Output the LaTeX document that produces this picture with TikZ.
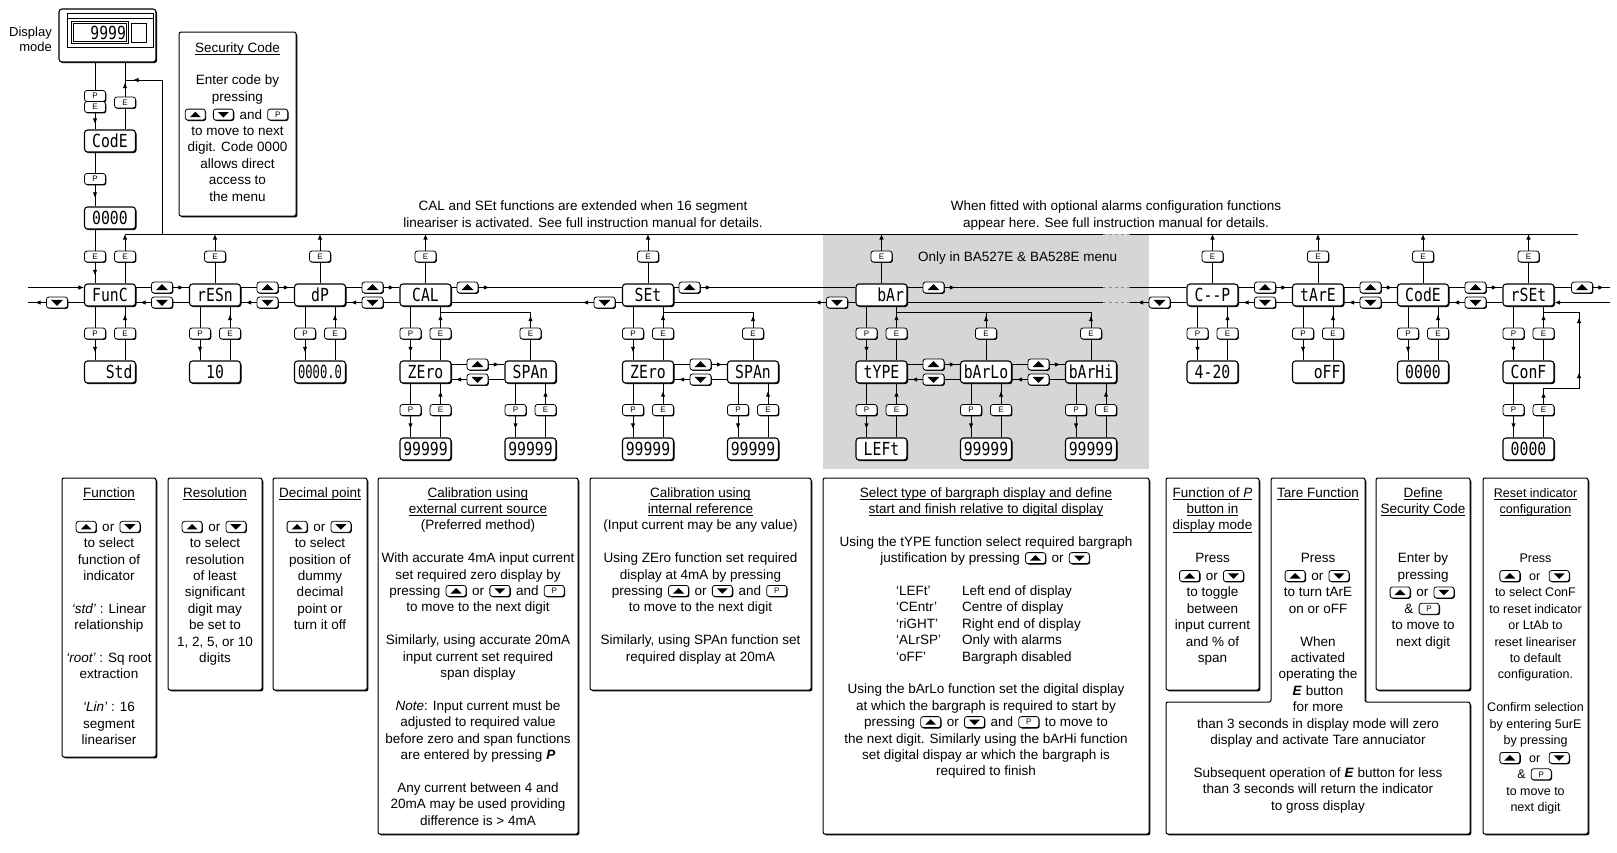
\documentclass[tikz,border=0pt]{standalone}
\usepackage{fontspec}
\setmainfont{Liberation Sans}
\newfontfamily\segfont[FakeStretch=0.82]{DejaVu Sans Mono}
\usepackage{graphicx}
\usetikzlibrary{arrows.meta,decorations.markings,shadows,calc}
\newsavebox\ulbox
\newcommand\uline[1]{\leavevmode\sbox\ulbox{#1}\rlap{\rule[-2.4pt]{\wd\ulbox}{0.7pt}}\usebox\ulbox}
\newcommand\txtfont{\fontsize{13.5}{16.4}\selectfont}
\newcommand\smtxt{\fontsize{12.5}{16.4}\selectfont}
\newcommand\btnfont{\fontsize{8}{8}\selectfont}
\newcommand\segf{\segfont\fontsize{18}{18}\selectfont}
\newcommand\skipln{\\[16.4pt]}
\newcommand\icbase[1]{\kern1.5pt\tikz[baseline=-4.5pt,x=1pt,y=1pt]{%
  \fill[black,rounded corners=2.5pt] (-9.1,-6.4) rectangle (10.9,4.6);%
  \filldraw[fill=white,draw=black,line width=0.8pt,rounded corners=2.5pt] (-10,-5.5) rectangle (10,5.5);%
  #1}\kern1.5pt}
\newcommand\icup{\icbase{\fill[black] (-5.5,-2.6) -- (5.5,-2.6) -- (0,2.9) -- cycle;}}
\newcommand\icdn{\icbase{\fill[black] (-5.5,2.6) -- (5.5,2.6) -- (0,-2.9) -- cycle;}}
\newcommand\icp{\icbase{\pgftext[at=\pgfpoint{0pt}{0pt}]{\btnfont P}}}
\tikzset{
  ln/.style={line width=0.9pt},
  tip/.style={ln,-{Latex[length=5.5pt,width=4.5pt]}},
  arr/.style={ln,postaction={decorate},decoration={markings,mark=at position #1 with {\arrow{Latex[length=5.5pt,width=4.5pt]}}}},
  arr/.default=11pt,
  gapdash/.style={line width=0.9pt,dash pattern=on 3pt off 3pt,black!45},
  shad/.style={drop shadow={shadow xshift=#1,shadow yshift=-#1,opacity=1,fill=black}},
  seg/.style={draw,line width=1.1pt,rounded corners=3pt,fill=white,minimum width=51pt,minimum height=22pt,text width=45pt,inner xsep=3pt,inner ysep=0pt,align=center,font=\segf,text height=13.1pt,text depth=0pt,shad=1.1pt},
  segr/.style={seg,align=right},
  btn/.style={draw,line width=0.8pt,rounded corners=2.5pt,fill=white,minimum width=21pt,minimum height=11pt,inner sep=0pt,font=\btnfont,shad=0.9pt},
  upb/.style={btn,path picture={\fill[black,sharp corners] ([xshift=-6pt,yshift=-2.7pt]path picture bounding box.center) -- ++(12pt,0pt) -- ++(-6pt,6pt) -- cycle;}},
  dnb/.style={btn,path picture={\fill[black,sharp corners] ([xshift=-6pt,yshift=2.7pt]path picture bounding box.center) -- ++(12pt,0pt) -- ++(-6pt,-6pt) -- cycle;}},
  boxn/.style={draw,line width=1pt,rounded corners=2pt,fill=white,inner sep=0pt,shad=1.3pt},
  tx/.style={inner sep=0pt,anchor=base},
}
\newcommand\vdown[3]{\draw[ln] (#1.south -| #2) -- (#2.north); \draw[arr=13pt] (#2.south) -- (#3.north -| #2);}
\newcommand\vup[3]{\draw[ln] (#1.north -| #2) -- (#2.south); \draw[arr=13pt] (#2.north) -- (#3.south -| #2);}
\newcommand\hfwd[3]{\draw[ln] (#1.east |- #2) -- (#2.west); \draw[arr] (#2.east) -- (#3.west |- #2);}
\newcommand\hbwd[3]{\draw[ln] (#1.west |- #2) -- (#2.east); \draw[arr] (#2.west) -- (#3.east |- #2);}
\begin{document}
\begin{tikzpicture}[x=1pt,y=-1pt]
\useasboundingbox (0,0) rectangle (1617,852);
% grey band
\fill[black!16] (823,234) rectangle (1149,469);

% ---------- display housing ----------
\node[draw,line width=1.1pt,rounded corners=3pt,fill=white,minimum width=97pt,minimum height=53pt,inner sep=0pt,shad=1.2pt] (disp) at (107.5,35.5) {};
\draw[line width=0.8pt] (67,13) rectangle (153,47);
\draw[line width=0.8pt] (67,18) -- (153,18);
\node[draw,line width=0.7pt,double,double distance=1.1pt,minimum width=55pt,minimum height=20pt,inner sep=0pt,text width=52pt,align=right,font=\segf,text height=13.1pt,text depth=0pt] (win) at (100,32.5) {9999};
\node[draw,line width=0.8pt,minimum width=15pt,minimum height=19pt,inner sep=0pt] (sq) at (139,32.5) {};
\node[tx,anchor=base east] (dmode) at (52,36) {\parbox[t]{60pt}{\raggedleft\fontsize{13}{15}\selectfont Display\\ mode}};

\node[seg] (codetop) at (110,141) {CodE};
\node[seg] (zero4) at (110,218) {0000};
\node[btn] (pPE) at (95,96) {P};
\node[btn] (ePE) at (95,107) {E};
\node[btn] (eR) at (125,102.5) {E};
\node[btn] (pC) at (95,179) {P};

% security box
\node[boxn,minimum width=117pt,minimum height=184pt] (secbox) at (237.5,124) {};
\node[tx] (sectxt) at (237.5,52) {\parbox[t]{112pt}{\centering\txtfont \uline{Security Code}\skipln Enter code by\\ pressing\\ \icup\ \icdn\ and \icp\\ to move to next\\ digit. Code 0000\\ allows direct\\ access to\\ the menu}};

% notes
\node[tx] (note1) at (583,210) {\parbox[t]{420pt}{\centering\fontsize{13.5}{17.2}\selectfont CAL and SEt functions are extended when 16 segment\\ lineariser is activated. See full instruction manual for details.}};
\node[tx] (note2) at (1116,210) {\parbox[t]{420pt}{\centering\fontsize{13.5}{17.2}\selectfont When fitted with optional alarms configuration functions\\ appear here. See full instruction manual for details.}};
\node[tx,anchor=base west] (only) at (918,261) {\txtfont Only in BA527E \& BA528E menu};

% ---------- main row ----------
\node[seg] (func) at (110,295) {FunC};
\node[seg] (resn) at (215,295) {rESn};
\node[seg] (dp) at (320,295) {dP};
\node[seg] (cal) at (425.5,295) {CAL};
\node[seg] (set) at (648,295) {SEt};
\node[segr] (bar) at (881.5,295) {bAr};
\node[seg] (cmp) at (1212.5,295) {C-{}-P};
\node[seg] (tare) at (1318,295) {tArE};
\node[seg] (code) at (1423,295) {CodE};
\node[seg] (rset) at (1528.5,295) {rSEt};

% sub row 1
\node[segr] (std) at (110,372) {Std};
\node[seg] (ten) at (215,372) {10};
\node[seg] (dpv) at (320,372) {\scalebox{0.82}[1]{0000.0}};
\node[seg] (calz) at (425.5,372) {ZEro};
\node[seg] (cals) at (530.5,372) {SPAn};
\node[seg] (setz) at (648,372) {ZEro};
\node[seg] (sets) at (753,372) {SPAn};
\node[seg] (type) at (881.5,372) {tYPE};
\node[seg] (barlo) at (986,372) {bArLo};
\node[seg] (barhi) at (1091,372) {bArHi};
\node[seg] (c420) at (1212.5,372) {4-20};
\node[segr] (off) at (1318,372) {oFF};
\node[seg] (codev) at (1423,372) {0000};
\node[seg] (conf) at (1528.5,372) {ConF};

% sub row 2
\node[seg] (calzv) at (425.5,449) {99999};
\node[seg] (calsv) at (530.5,449) {99999};
\node[seg] (setzv) at (648,449) {99999};
\node[seg] (setsv) at (753,449) {99999};
\node[seg] (leftv) at (881.5,449) {LEFt};
\node[seg] (barlov) at (986,449) {99999};
\node[seg] (barhiv) at (1091,449) {99999};
\node[seg] (rsetv) at (1528.5,449) {0000};

% ---------- top line ----------
\coordinate (tlL) at (125,234);
\coordinate (tlR) at (1578,234);
\coordinate (g1t) at (1103,234);
\coordinate (g2t) at (1130,234);
\draw[ln] (tlL) -- (g1t);
\draw[gapdash] (g1t) -- (g2t);
\draw[ln] (g2t) -- (tlR);

% top-left connectors
\draw[ln] (disp.south -| pPE) -- (pPE.north);
\draw[arr=11pt] (ePE.south) -- (codetop.north -| ePE);
\draw[ln] (codetop.north -| eR) -- (eR.south);
\draw[arr=14pt] (eR.north) -- (disp.south -| eR);
\vdown{codetop}{pC}{zero4}
\coordinate (tlA) at (162,234);
\coordinate (eL) at (125,80);
\draw[arr=-8pt] (tlA) -- (tlA |- eL) -- (eL);

% E buttons above main row
\node[btn] (eFr) at (125,256.5) {E};
\node[btn] (eFl) at (95,256.5) {E};
\draw[ln] (func.north -| eFr) -- (eFr.south);
\draw[tip] (eFr.north) -- (eFr |- tlL);
\vdown{zero4}{eFl}{func}
\foreach \m/\cx in {resn/215,dp/320,cal/425.5,set/648,bar/881.5,cmp/1212.5,tare/1318,code/1423,rset/1528.5}{
  \node[btn] (et\m) at (\cx,256.5) {E};
  \draw[ln] (\m.north) -- (et\m.south);
  \draw[tip] (et\m.north) -- (et\m |- tlL);
}

% main row buttons
\foreach \n/\x in {1/162,2/267.5,3/372.5,7/1265,8/1370.5,9/1475.5}{
  \node[upb] (u\n) at (\x,287.5) {};
  \node[dnb] (d\n) at (\x,302.5) {};
}
\node[upb] (u4) at (467.5,287.5) {};
\node[dnb] (d4) at (604.5,302.5) {};
\node[upb] (u5) at (689.5,287.5) {};
\node[dnb] (d5) at (837,302.5) {};
\node[upb] (u6) at (933.5,287.5) {};
\node[dnb] (d6) at (1159.5,302.5) {};
\node[upb] (u10) at (1582,287.5) {};
\node[dnb] (d0) at (57,302.5) {};

\coordinate (inL) at (28,287.5);
\coordinate (outL) at (28,302.5);
\coordinate (outR) at (1610,287.5);
\coordinate (inR) at (1610,302.5);
\coordinate (g1u) at (1103,287.5);
\coordinate (g2u) at (1130,287.5);
\coordinate (g1d) at (1103,302.5);
\coordinate (g2d) at (1130,302.5);

% upper (forward) line
\draw[tip] (inL) -- (func.west |- inL);
\hfwd{func}{u1}{resn}
\hfwd{resn}{u2}{dp}
\hfwd{dp}{u3}{cal}
\hfwd{cal}{u4}{set}
\hfwd{set}{u5}{bar}
\draw[ln] (bar.east |- u6) -- (u6.west);
\draw[arr] (u6.east) -- (g1u);
\draw[gapdash] (g1u) -- (g2u);
\draw[ln] (g2u) -- (cmp.west |- g2u);
\hfwd{cmp}{u7}{tare}
\hfwd{tare}{u8}{code}
\hfwd{code}{u9}{rset}
\draw[ln] (rset.east |- u10) -- (u10.west);
\draw[arr] (u10.east) -- (outR);

% lower (backward) line
\draw[tip] (inR) -- (rset.east |- inR);
\hbwd{rset}{d9}{code}
\hbwd{code}{d8}{tare}
\hbwd{tare}{d7}{cmp}
\draw[ln] (cmp.west |- d6) -- (d6.east);
\draw[arr] (d6.west) -- (g2d);
\draw[gapdash] (g2d) -- (g1d);
\draw[ln] (g1d) -- (bar.east |- g1d);
\hbwd{bar}{d5}{set}
\hbwd{set}{d4}{cal}
\hbwd{cal}{d3}{dp}
\hbwd{dp}{d2}{resn}
\hbwd{resn}{d1}{func}
\draw[ln] (func.west |- d0) -- (d0.east);
\draw[arr] (d0.west) -- (outL);

% P/E below main row
\foreach \m/\s/\cx in {func/std/110,resn/ten/215,dp/dpv/320,cal/calz/425.5,set/setz/648,bar/type/881.5,cmp/c420/1212.5,tare/off/1318,code/codev/1423,rset/conf/1528.5}{
  \node[btn] (pb\m) at (\cx-15,333.5) {P};
  \node[btn] (eb\m) at (\cx+15,333.5) {E};
  \vdown{\m}{pb\m}{\s}
  \vup{\s}{eb\m}{\m}
}

% E above sub row
\coordinate (jc) at (440.5,312);
\coordinate (js) at (663,312);
\coordinate (jb) at (896.5,312);
\foreach \m/\cx/\j in {cals/530.5/jc,sets/753/js,barlo/986/jb,barhi/1091/jb}{
  \node[btn] (ea\m) at (\cx,333.5) {E};
  \draw[ln] (\m.north) -- (ea\m.south);
  \draw[arr=12pt] (ea\m.north) -- (ea\m |- \j) -- (\j);
}

% sub row horizontal buttons
\foreach \n/\x in {Z1/477.5,Z2/700.5,B1/933.5,B2/1038.5}{
  \node[upb] (su\n) at (\x,364.5) {};
  \node[dnb] (sd\n) at (\x,379.5) {};
}
\hfwd{calz}{suZ1}{cals}
\hbwd{cals}{sdZ1}{calz}
\hfwd{setz}{suZ2}{sets}
\hbwd{sets}{sdZ2}{setz}
\hfwd{type}{suB1}{barlo}
\hbwd{barlo}{sdB1}{type}
\hfwd{barlo}{suB2}{barhi}
\hbwd{barhi}{sdB2}{barlo}

% P/E below sub row
\foreach \m/\s/\cx in {calz/calzv/425.5,cals/calsv/530.5,setz/setzv/648,sets/setsv/753,type/leftv/881.5,barlo/barlov/986,barhi/barhiv/1091}{
  \node[btn] (qb\m) at (\cx-15,410) {P};
  \node[btn] (rb\m) at (\cx+15,410) {E};
  \vdown{\m}{qb\m}{\s}
  \vup{\s}{rb\m}{\m}
}
\node[btn] (qbconf) at (1513.5,410) {P};
\vdown{conf}{qbconf}{rsetv}
\node[btn] (eRl) at (1543.5,410) {E};
\coordinate (lp1) at (1579,388);
\coordinate (lp2) at (1579,312);
\coordinate (lp3) at (1543.5,312);
\draw[ln] (rsetv.north -| eRl) -- (eRl.south);
\draw[ln,postaction={decorate},decoration={markings,
  mark=at position 12pt with {\arrow{Latex[length=5.5pt,width=4.5pt]}},
  mark=at position 67pt with {\arrow{Latex[length=5.5pt,width=4.5pt]}},
  mark=at position 122pt with {\arrow{Latex[length=5.5pt,width=4.5pt]}}}]
  (eRl.north) -- (eRl |- lp1) -- (lp1) -- (lp2) -- (lp3);

% ---------- bottom boxes ----------
\node[boxn,minimum width=94pt,minimum height=279pt] (fb1) at (109,617.5) {};
\node[boxn,minimum width=94pt,minimum height=212pt] (fb2) at (215,584) {};
\node[boxn,minimum width=94pt,minimum height=212pt] (fb3) at (320,584) {};
\node[boxn,minimum width=200pt,minimum height=356pt] (fb4) at (478,656) {};
\node[boxn,minimum width=221pt,minimum height=212pt] (fb5) at (700.5,584) {};
\node[boxn,minimum width=326pt,minimum height=356pt] (fb6) at (986,656) {};
\node[boxn,minimum width=93pt,minimum height=212pt] (fb7) at (1212.5,584) {};
\draw[line width=1pt,rounded corners=2pt,fill=white,shad=1.3pt] (1271,478) -- (1365,478) -- (1365,702) -- (1470,702) -- (1470,834) -- (1166,834) -- (1166,702) -- (1271,702) -- cycle;
\node[boxn,minimum width=94pt,minimum height=212pt] (fb9) at (1423,584) {};
\node[boxn,minimum width=105pt,minimum height=356pt] (fb10) at (1535.5,656) {};

\node[tx] (t1) at (109,497) {\parbox[t]{92pt}{\centering\txtfont \uline{Function}\skipln \icup\ or \icdn\\ to select\\ function of\\ indicator\skipln \textit{‘std’} : Linear\\ relationship\skipln \textit{‘root’} : Sq root\\ extraction\skipln \textit{‘Lin’} : 16\\ segment\\ lineariser}};
\node[tx] (t2) at (215,497) {\parbox[t]{92pt}{\centering\txtfont \uline{Resolution}\skipln \icup\ or \icdn\\ to select\\ resolution\\ of least\\ significant\\ digit may\\ be set to\\ 1, 2, 5, or 10\\ digits}};
\node[tx] (t3) at (320,497) {\parbox[t]{92pt}{\centering\txtfont \uline{Decimal point}\skipln \icup\ or \icdn\\ to select\\ position of\\ dummy\\ decimal\\ point or\\ turn it off}};
\node[tx] (t4) at (478,497) {\parbox[t]{198pt}{\centering\txtfont \uline{Calibration using}\\ \uline{external current source}\\ (Preferred method)\skipln With accurate 4mA input current\\ set required zero display by\\ pressing \icup\ or \icdn\ and \icp\\ to move to the next digit\skipln Similarly, using accurate 20mA\\ input current set required\\ span display\skipln \textit{Note}: Input current must be\\ adjusted to required value\\ before zero and span functions\\ are entered by pressing \textbf{\textit{P}}\skipln Any current between 4 and\\ 20mA may be used providing\\ difference is > 4mA}};
\node[tx] (t5) at (700.5,497) {\parbox[t]{218pt}{\centering\txtfont \uline{Calibration using}\\ \uline{internal reference}\\ (Input current may be any value)\skipln Using ZEro function set required\\ display at 4mA by pressing\\ pressing \icup\ or \icdn\ and \icp\\ to move to the next digit\skipln Similarly, using SPAn function set\\ required display at 20mA}};
\node[tx] (t6) at (986,497) {\parbox[t]{322pt}{\centering\txtfont \uline{Select type of bargraph display and define}\\ \uline{start and finish relative to digital display}\skipln Using the tYPE function select required bargraph\\ justification by pressing \icup\ or \icdn\\[114.8pt] Using the bArLo function set the digital display\\ at which the bargraph is required to start by\\ pressing \icup\ or \icdn\ and \icp\ to move to\\ the next digit. Similarly using the bArHi function\\ set digital dispay ar which the bargraph is\\ required to finish}};
\node[tx,anchor=base west] (tbl) at (896,595.4) {\parbox[t]{250pt}{\raggedright\txtfont \makebox[66pt][l]{‘LEFt’}Left end of display\\ \makebox[66pt][l]{‘CEntr’}Centre of display\\ \makebox[66pt][l]{‘riGHT’}Right end of display\\ \makebox[66pt][l]{‘ALrSP’}Only with alarms\\ \makebox[66pt][l]{‘oFF’}Bargraph disabled}};
\node[tx] (t7) at (1212.5,497) {\parbox[t]{91pt}{\centering\txtfont \uline{Function of \textit{P}}\\ \uline{button in}\\ \uline{display mode}\skipln Press\\ \icup\ or \icdn\\ to toggle\\ between\\ input current\\ and \% of\\ span}};
\node[tx] (t8) at (1318,497) {\parbox[t]{300pt}{\centering\txtfont \uline{Tare Function}\\[49.2pt] Press\\ \icup\ or \icdn\\ to turn tArE\\ on or oFF\skipln When\\ activated\\ operating the\\ \textbf{\textit{E}} button\\ for more\\ than 3 seconds in display mode will zero\\ display and activate Tare annuciator\skipln Subsequent operation of \textbf{\textit{E}} button for less\\ than 3 seconds will return the indicator\\ to gross display}};
\node[tx] (t9) at (1423,497) {\parbox[t]{92pt}{\centering\txtfont \uline{Define}\\ \uline{Security Code}\\[32.8pt] Enter by\\ pressing\\ \icup\ or \icdn\\ \& \icp\\ to move to\\ next digit}};
\node[tx] (t10) at (1535.5,497) {\parbox[t]{103pt}{\centering\smtxt \uline{Reset indicator}\\ \uline{configuration}\\[32.8pt] Press\\ \icup\ \ or\ \ \icdn\\ to select ConF\\ to reset indicator\\ or LtAb to\\ reset lineariser\\ to default\\ configuration.\skipln Confirm selection\\ by entering 5urE\\ by pressing\\ \icup\ \ or\ \ \icdn\\ \& \icp\\ to move to\\ next digit}};
\end{tikzpicture}
\end{document}
